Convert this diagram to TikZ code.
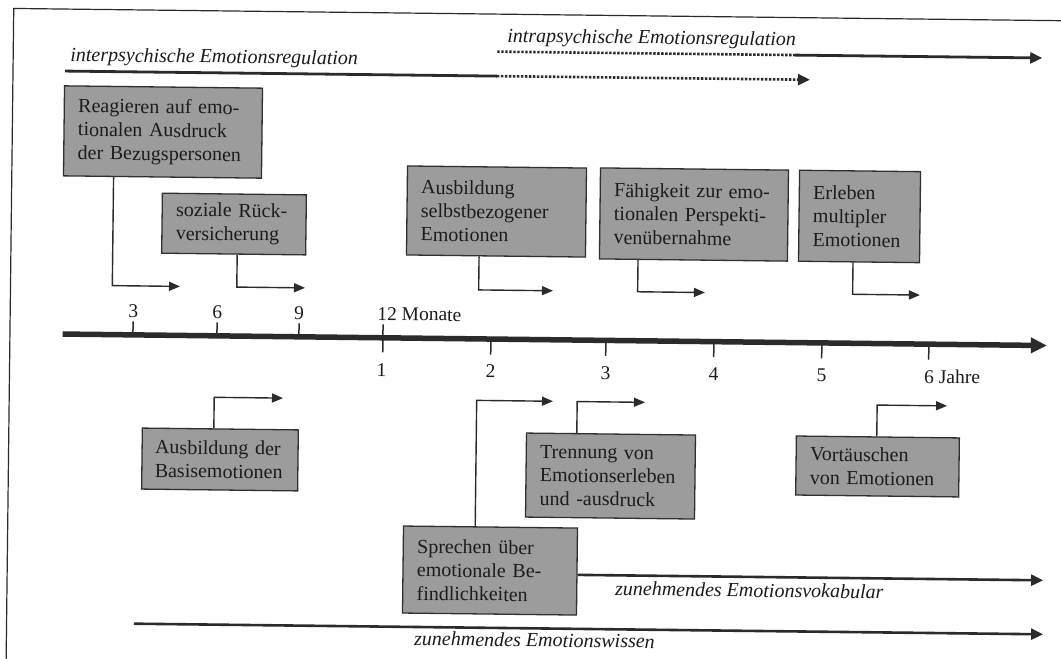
\documentclass[tikz,border=0pt]{standalone}
\usepackage{fontspec}
\setmainfont{Liberation Serif}
\usetikzlibrary{arrows.meta}
\hyphenpenalty=10000
\definecolor{ink}{HTML}{2B2B2B}
\definecolor{boxfill}{HTML}{9C9C9C}
\definecolor{boxline}{HTML}{303030}
\definecolor{txt}{HTML}{1C1C1C}
\begin{document}
\begin{tikzpicture}[x=1pt,y=-1pt,
  evbox/.style={draw=boxline, line width=1.3pt, fill=boxfill, text=txt,
    inner xsep=14pt, inner ysep=0pt, align=left,
    font=\fontsize{20}{23.5}\selectfont},
  conn/.style={draw=ink, line width=1.4pt, -{Triangle[length=11pt,width=9pt]}},
  ticklabel/.style={text=txt, inner sep=0pt, anchor=base, font=\fontsize{19.5}{22}\selectfont},
  headlabel/.style={text=txt, inner sep=0pt, anchor=base west, font=\fontsize{20}{24}\selectfont\itshape},
  tick/.style={draw=ink, line width=1.5pt},
  solidline/.style={draw=ink, line width=2.8pt},
  dotline/.style={draw=ink, line width=2.6pt, dash pattern=on 2.4pt off 1.6pt},
  longarrow/.style={draw=ink, line width=2.6pt, -{Triangle[length=12pt,width=11pt]}},
]
\useasboundingbox (0,0) rectangle (1061,659);
\fill[white] (0,0) rectangle (1061,659);

\begin{scope}[transform canvas={rotate around={-0.67:(530,330)}}]
  % frame
  \draw[ink, line width=1.2pt] (10,700) -- (10,14.5) -- (1100,14.5);

  % regulation headers
  \node[headlabel] (inter) at (67,66.7) {interpsychische Emotionsregulation};
  \node[headlabel] (intra) at (503.7,42.6) {intrapsychische Emotionsregulation};
  \coordinate (lo0) at (62,76.5);
  \coordinate (lo1) at (494,76.5);
  \coordinate (lo2) at (807,76.5);
  \coordinate (up0) at (494,52);
  \coordinate (up1) at (792,52);
  \coordinate (up2) at (1039,52);
  \draw[solidline] (lo0) -- (lo1);
  \draw[dotline, -{Triangle[length=12pt,width=11pt]}] (lo1) -- (lo2);
  \draw[dotline] (up0) -- (up1);
  \draw[solidline, -{Triangle[length=12pt,width=11pt]}] (up1) -- (up2);

  % time axis
  \coordinate (ax0) at (62.7,339.5);
  \coordinate (ax1) at (1047,339.5);
  \draw[draw=ink, line width=5.5pt, -{Triangle[length=16pt,width=15pt]}] (ax0) -- (ax1);
  \foreach \x in {133,217,299} \draw[tick] (\x,326) -- (\x,339.5);
  \draw[tick] (383,326) -- (383,354);
  \foreach \x in {491,606,714,822,929} \draw[tick] (\x,339.5) -- (\x,355);
  \node[ticklabel] (m3) at (133,322) {3};
  \node[ticklabel] (m6) at (217,322) {6};
  \node[ticklabel] (m9) at (299,322) {9};
  \node[ticklabel, anchor=base west] (m12) at (377,322) {12 Monate};
  \node[ticklabel] (y1) at (382,378.5) {1};
  \node[ticklabel] (y2) at (491,378.5) {2};
  \node[ticklabel] (y3) at (606,378.5) {3};
  \node[ticklabel] (y4) at (714,378.5) {4};
  \node[ticklabel] (y5) at (822,378.5) {5};
  \node[ticklabel, anchor=base west] (y6) at (924.6,378.5) {6 Jahre};

  % milestones above the axis
  \node[evbox, text width=170pt, minimum height=90pt] (b1) at (160.7,136.3)
    {Reagieren~auf~emo-\\tionalen~Ausdruck\\der~Bezugspersonen};
  \node[evbox, text width=116pt, minimum height=60pt] (b2) at (232.8,227.5)
    {soziale~Rück-\\versicherung};
  \node[evbox, text width=151pt, minimum height=89pt] (b3) at (495.1,211.9)
    {Ausbildung\\selbstbezogener\\Emotionen};
  \node[evbox, text width=160pt, minimum height=91pt] (b4) at (692.6,212.6)
    {Fähigkeit~zur~emo-\\tionalen~Perspekti-\\venübernahme};
  \node[evbox, text width=93pt, minimum height=91pt] (b5) at (858.2,212.6)
    {Erleben\\multipler\\Emotionen};

  % milestones below the axis
  \node[evbox, text width=130pt, minimum height=61pt, inner xsep=13pt] (b6) at (221.5,463.1)
    {Ausbildung~der\\Basisemotionen};
  \node[evbox, text width=141pt, minimum height=84pt] (b7) at (612.2,475.1)
    {Trennung~von\\Emotionserleben\\und~-ausdruck};
  \node[evbox, text width=146pt, minimum height=87pt] (b8) at (492.8,571)
    {Sprechen~über\\emotionale~Be-\\findlichkeiten};
  \node[evbox, text width=135pt, minimum height=59pt] (b9) at (879.1,462.4)
    {Vortäuschen\\von~Emotionen};

  % bends and arrow ends of the milestone connectors
  \coordinate (k1) at (111.8,290.5); \coordinate (e1) at (179.5,290.5);
  \coordinate (k2) at (236.3,290.5); \coordinate (e2) at (304.5,290.5);
  \coordinate (k3) at (478.2,290.5); \coordinate (e3) at (552.5,290.5);
  \coordinate (k4) at (637.2,290.5); \coordinate (e4) at (704.5,290.5);
  \coordinate (k5) at (852.2,290.5); \coordinate (e5) at (919.5,290.5);
  \coordinate (k6) at (215,401);     \coordinate (e6) at (283.8,401);
  \coordinate (k7) at (578,401);     \coordinate (e7) at (645.8,401);
  \coordinate (k8) at (477.5,401);   \coordinate (e8) at (553.8,401);
  \coordinate (k9) at (878,401);     \coordinate (e9) at (947.9,401);

  \draw[conn] (b1.south -| k1) -- (k1) -- (e1);
  \draw[conn] (b2.south -| k2) -- (k2) -- (e2);
  \draw[conn] (b3.south -| k3) -- (k3) -- (e3);
  \draw[conn] (b4.south -| k4) -- (k4) -- (e4);
  \draw[conn] (b5.south -| k5) -- (k5) -- (e5);
  \draw[conn] (b6.north -| k6) -- (k6) -- (e6);
  \draw[conn] (b7.north -| k7) -- (k7) -- (e7);
  \draw[conn] (b8.north -| k8) -- (k8) -- (e8);
  \draw[conn] (b9.north -| k9) -- (k9) -- (e9);

  % growing vocabulary and knowledge
  \coordinate (vk) at (1046,574.3);
  \coordinate (w0) at (137.4,628.3);
  \coordinate (w1) at (1046.6,628.3);
  \draw[longarrow] (b8.east |- vk) -- (vk);
  \draw[longarrow] (w0) -- (w1);
  \node[headlabel] (vklabel) at (618,594.4) {zunehmendes Emotionsvokabular};
  \node[headlabel] (wlabel) at (417.7,646.7) {zunehmendes Emotionswissen};
\end{scope}
\end{tikzpicture}
\end{document}
